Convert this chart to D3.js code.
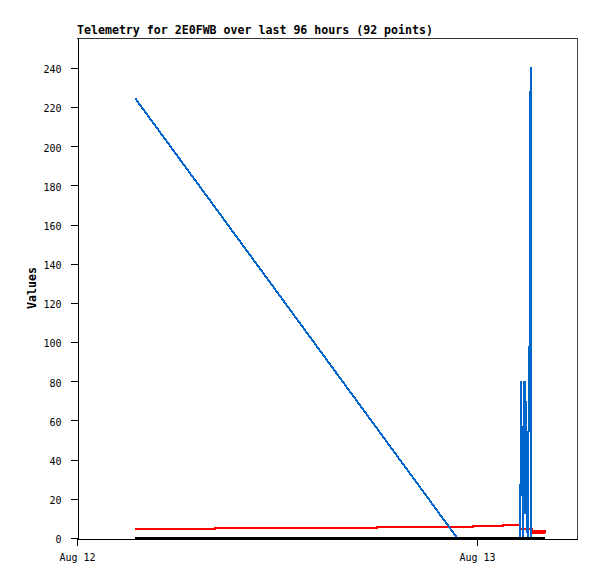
<!DOCTYPE html>
<html>
<head>
<meta charset="utf-8">
<script src="https://cdn.jsdelivr.net/npm/d3@7"></script>
<style>
  html, body { margin: 0; padding: 0; background: #fff; }
  svg { display: block; }
  text { font-family: "DejaVu Sans Mono", "Liberation Mono", monospace; fill: #000; }
</style>
</head>
<body>
<svg id="chart" width="597" height="579"></svg>
<script>
// ---- data ----
const titleText = "Telemetry for 2E0FWB over last 96 hours (92 points)";
const yLabel = "Values";
const yTicks = [0, 20, 40, 60, 80, 100, 120, 140, 160, 180, 200, 220, 240];
const xTickDates = ["2023-08-12T00:00", "2023-08-13T00:00"];

const blueTimes = ["2023-08-12T03:29", "2023-08-12T22:48", "2023-08-13T02:36", "2023-08-13T02:38",
  "2023-08-13T02:42", "2023-08-13T02:46", "2023-08-13T02:51", "2023-08-13T02:54", "2023-08-13T02:56",
  "2023-08-13T02:59", "2023-08-13T03:02", "2023-08-13T03:05", "2023-08-13T03:09", "2023-08-13T03:13",
  "2023-08-13T03:14"];
const blueValues = [224.6, 0.15, 0.15, 80, 40, 0.15, 80, 12, 70, 50, 0.15, 48, 96.5, 240.5, 0.15];

const redTimes = ["2023-08-12T03:29", "2023-08-12T08:17", "2023-08-12T18:00", "2023-08-12T23:46",
  "2023-08-13T01:34", "2023-08-13T02:33", "2023-08-13T03:18", "2023-08-13T03:23", "2023-08-13T03:29",
  "2023-08-13T03:34", "2023-08-13T03:40", "2023-08-13T03:45", "2023-08-13T03:50", "2023-08-13T03:56",
  "2023-08-13T04:01", "2023-08-13T04:06"];
const redValues = [4.85, 5.36, 5.87, 6.25, 6.75, 4.6, 3.7, 2.8, 3.7, 2.8, 3.7, 2.8, 3.7, 2.8, 3.7, 2.8];

const blackTimes = ["2023-08-12T03:29", "2023-08-12T12:00", "2023-08-13T00:00", "2023-08-13T04:06"];
const blackValues = [0.15, 0.15, 0.15, 0.15];

// ---- chart ----
const parse = d3.timeParse("%Y-%m-%dT%H:%M");
const svg = d3.select("#chart");

const x = d3.scaleTime()
  .domain([parse("2023-08-12T00:00"), parse("2023-08-13T06:00")])
  .range([77, 577]);
const y = d3.scaleLinear().domain([0, 255.3]).range([538, 38]);

function series(times, values) {
  return times.map((t, i) => ({ t: parse(t), v: values[i] }));
}

// frame (top and right)
svg.append("line").attr("x1", 77).attr("x2", 577.5).attr("y1", 38.5).attr("y2", 38.5)
  .attr("stroke", "#333").attr("shape-rendering", "crispEdges");
svg.append("line").attr("x1", 577.5).attr("x2", 577.5).attr("y1", 38).attr("y2", 539)
  .attr("stroke", "#444").attr("shape-rendering", "crispEdges");

const lineLinear = d3.line().x(d => x(d.t)).y(d => y(d.v));
const lineStep = d3.line().x(d => x(d.t)).y(d => y(d.v)).curve(d3.curveStepAfter);

svg.append("path").datum(series(redTimes, redValues))
  .attr("d", lineStep).attr("fill", "none").attr("stroke", "#ff0000").attr("stroke-width", 2)
  .attr("shape-rendering", "crispEdges");
svg.append("path").datum(series(blueTimes, blueValues))
  .attr("d", lineLinear).attr("fill", "none").attr("stroke", "#0066cc").attr("stroke-width", 2)
  .attr("shape-rendering", "crispEdges");
svg.append("path").datum(series(blackTimes, blackValues))
  .attr("d", lineStep).attr("fill", "none").attr("stroke", "#000").attr("stroke-width", 2.4)
  .attr("shape-rendering", "crispEdges");

// axes
const yAxis = d3.axisLeft(y).tickValues(yTicks).tickSize(7).tickSizeOuter(0).tickPadding(9);
const gy = svg.append("g").attr("transform", "translate(77.5,0)").call(yAxis);
const xAxis = d3.axisBottom(x).tickValues(xTickDates.map(parse)).tickFormat(d3.timeFormat("%b %d"))
  .tickSize(7).tickSizeOuter(0).tickPadding(8);
const gx = svg.append("g").attr("transform", "translate(0,538.5)").call(xAxis);

[gx, gy].forEach(g => {
  g.selectAll("path, line").attr("stroke", "#000").attr("shape-rendering", "crispEdges");
  g.selectAll("text").style("font-family", '"DejaVu Sans Mono", monospace').style("font-size", "10px").attr("fill", "#000");
});
gy.selectAll("text").attr("dy", "0.47em");

// title
svg.append("text").attr("x", 77).attr("y", 34)
  .style("font-size", "11.6px").style("font-weight", "bold").text(titleText);

// y label
svg.append("text").attr("transform", "translate(36,288) rotate(-90)")
  .attr("text-anchor", "middle").style("font-size", "11.6px").style("font-weight", "bold").text(yLabel);
</script>
</body>
</html>
